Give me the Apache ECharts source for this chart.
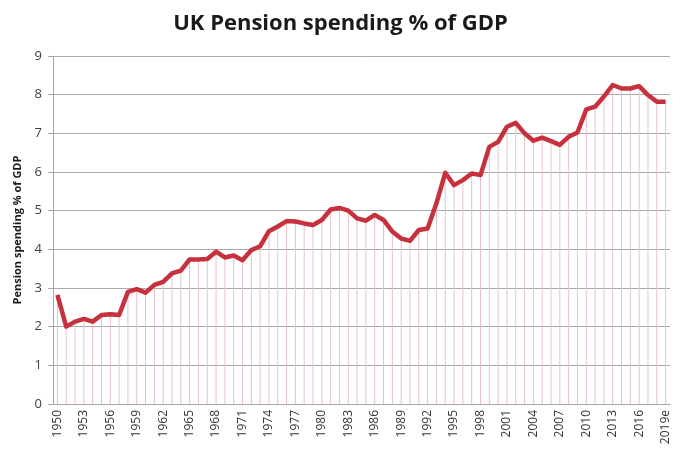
<!DOCTYPE html>
<html>
<head>
<meta charset="utf-8">
<title>UK Pension spending % of GDP</title>
<script src="https://cdn.jsdelivr.net/npm/echarts@6/dist/echarts.min.js"></script>
<style>
  html, body { margin: 0; padding: 0; background: #ffffff; }
  #chart { width: 681px; height: 450px; }
</style>
</head>
<body>
<div id="chart"></div>
<script>
// Years 1950–2019 (2019 is an estimate)
const years = [
  '1950','1951','1952','1953','1954','1955','1956','1957','1958','1959',
  '1960','1961','1962','1963','1964','1965','1966','1967','1968','1969',
  '1970','1971','1972','1973','1974','1975','1976','1977','1978','1979',
  '1980','1981','1982','1983','1984','1985','1986','1987','1988','1989',
  '1990','1991','1992','1993','1994','1995','1996','1997','1998','1999',
  '2000','2001','2002','2003','2004','2005','2006','2007','2008','2009',
  '2010','2011','2012','2013','2014','2015','2016','2017','2018','2019e'
];

// Pension spending as % of GDP
const pensionSpending = [
  2.82, 2.00, 2.13, 2.20, 2.13, 2.30, 2.32, 2.30, 2.90, 2.97,
  2.88, 3.08, 3.16, 3.38, 3.45, 3.74, 3.74, 3.75, 3.94, 3.79,
  3.84, 3.72, 3.98, 4.08, 4.47, 4.59, 4.73, 4.72, 4.67, 4.63,
  4.76, 5.03, 5.07, 5.00, 4.80, 4.74, 4.89, 4.76, 4.46, 4.28,
  4.22, 4.50, 4.54, 5.19, 5.98, 5.66, 5.79, 5.96, 5.92, 6.65,
  6.78, 7.17, 7.27, 7.00, 6.81, 6.89, 6.80, 6.70, 6.91, 7.02,
  7.62, 7.69, 7.95, 8.25, 8.16, 8.16, 8.22, 7.99, 7.82, 7.82
];

const yTicks = [0, 1, 2, 3, 4, 5, 6, 7, 8, 9];

const chart = echarts.init(document.getElementById('chart'), null, { renderer: 'canvas' });

chart.setOption({
  animation: false,
  backgroundColor: '#ffffff',
  title: {
    text: 'UK Pension spending % of GDP',
    left: 'center',
    top: 8,
    textStyle: {
      fontFamily: 'Open Sans',
      fontWeight: 'bold',
      fontSize: 22,
      color: '#1a1a1a'
    }
  },
  grid: { left: 53, right: 11, top: 56, bottom: 46 },
  xAxis: {
    type: 'category',
    data: years,
    boundaryGap: true,
    axisLine: { show: true, lineStyle: { color: '#a6a6a6', width: 1 } },
    axisTick: { show: false },
    axisLabel: {
      interval: 2,
      rotate: 90,
      margin: 6,
      fontFamily: 'Open Sans',
      fontSize: 12,
      color: '#333333'
    },
    splitLine: { show: false }
  },
  yAxis: {
    type: 'value',
    min: yTicks[0],
    max: yTicks[yTicks.length - 1],
    interval: 1,
    name: 'Pension spending % of GDP',
    nameLocation: 'middle',
    nameRotate: 90,
    nameGap: 30,
    nameTextStyle: {
      fontFamily: 'Open Sans',
      fontWeight: 'bold',
      fontSize: 11,
      color: '#1a1a1a'
    },
    axisLine: { show: true, lineStyle: { color: '#a6a6a6', width: 1 } },
    axisTick: { show: true, length: 5, lineStyle: { color: '#a6a6a6' } },
    axisLabel: {
      margin: 11,
      fontFamily: 'Open Sans',
      fontSize: 13,
      color: '#404040'
    },
    splitLine: { show: true, lineStyle: { color: '#a9a9a9', width: 1 } }
  },
  series: [
    {
      // thin drop lines from each point down to the axis
      name: 'drop',
      type: 'bar',
      data: pensionSpending,
      barWidth: 1,
      itemStyle: { color: '#e8c0c6' },
      silent: true,
      z: 1
    },
    {
      name: 'Pension spending',
      type: 'line',
      data: pensionSpending,
      symbol: 'none',
      lineStyle: { color: '#c6313d', width: 4.5, join: 'round' },
      z: 3
    }
  ]
});
</script>
</body>
</html>
